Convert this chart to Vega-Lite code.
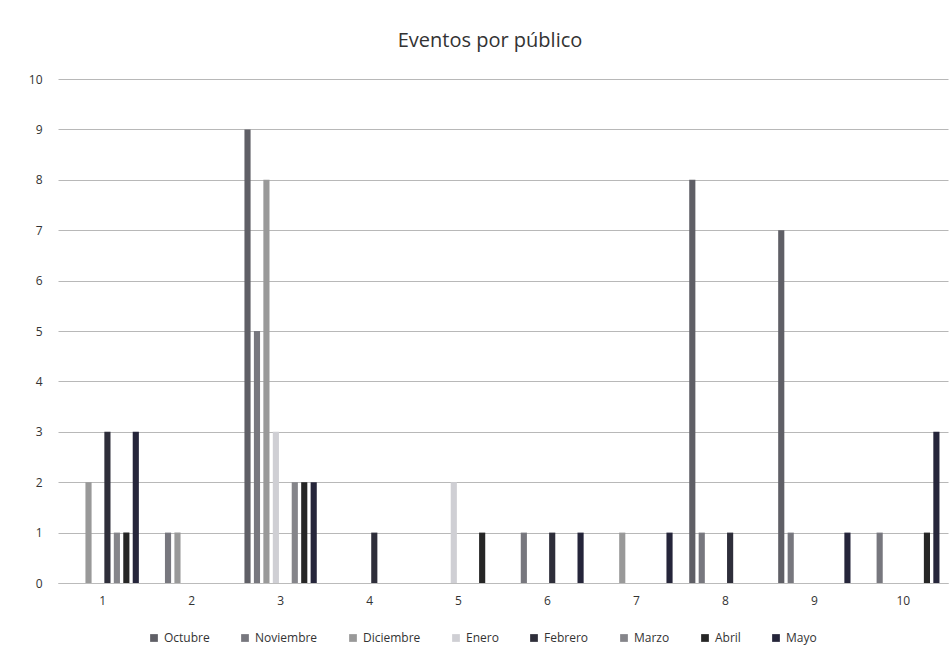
{
  "$schema": "https://vega.github.io/schema/vega-lite/v6.json",
  "width": 890,
  "height": 504,
  "autosize": {"type": "none"},
  "padding": {"left": 58, "top": 79, "right": 3, "bottom": 84},
  "background": "white",
  "title": {
    "text": "Eventos por público",
    "fontSize": 20,
    "font": "Open Sans",
    "fontWeight": "normal",
    "color": "#333333",
    "anchor": "middle",
    "dx": -13,
    "offset": 22
  },
  "data": {
    "values": [
      {"publico": 1, "mes": "Diciembre", "eventos": 2},
      {"publico": 1, "mes": "Febrero", "eventos": 3},
      {"publico": 1, "mes": "Marzo", "eventos": 1},
      {"publico": 1, "mes": "Abril", "eventos": 1},
      {"publico": 1, "mes": "Mayo", "eventos": 3},
      {"publico": 2, "mes": "Noviembre", "eventos": 1},
      {"publico": 2, "mes": "Diciembre", "eventos": 1},
      {"publico": 3, "mes": "Octubre", "eventos": 9},
      {"publico": 3, "mes": "Noviembre", "eventos": 5},
      {"publico": 3, "mes": "Diciembre", "eventos": 8},
      {"publico": 3, "mes": "Enero", "eventos": 3},
      {"publico": 3, "mes": "Marzo", "eventos": 2},
      {"publico": 3, "mes": "Abril", "eventos": 2},
      {"publico": 3, "mes": "Mayo", "eventos": 2},
      {"publico": 4, "mes": "Febrero", "eventos": 1},
      {"publico": 5, "mes": "Enero", "eventos": 2},
      {"publico": 5, "mes": "Abril", "eventos": 1},
      {"publico": 6, "mes": "Noviembre", "eventos": 1},
      {"publico": 6, "mes": "Febrero", "eventos": 1},
      {"publico": 6, "mes": "Mayo", "eventos": 1},
      {"publico": 7, "mes": "Diciembre", "eventos": 1},
      {"publico": 7, "mes": "Mayo", "eventos": 1},
      {"publico": 8, "mes": "Octubre", "eventos": 8},
      {"publico": 8, "mes": "Noviembre", "eventos": 1},
      {"publico": 8, "mes": "Febrero", "eventos": 1},
      {"publico": 9, "mes": "Octubre", "eventos": 7},
      {"publico": 9, "mes": "Noviembre", "eventos": 1},
      {"publico": 9, "mes": "Mayo", "eventos": 1},
      {"publico": 10, "mes": "Noviembre", "eventos": 1},
      {"publico": 10, "mes": "Abril", "eventos": 1},
      {"publico": 10, "mes": "Mayo", "eventos": 3}
    ]
  },
  "mark": {"type": "bar"},
  "encoding": {
    "x": {
      "field": "publico",
      "type": "ordinal",
      "scale": {"domain": [1,2,3,4,5,6,7,8,9,10], "paddingInner": 0.155, "paddingOuter": 0.08},
      "axis": {
        "title": null,
        "labelAngle": 0,
        "labelFont": "Open Sans",
        "labelFontSize": 12,
        "labelColor": "#333333",
        "labelPadding": 12,
        "ticks": false,
        "domain": true,
        "domainColor": "#bbbbbb"
      }
    },
    "xOffset": {
      "field": "mes",
      "type": "nominal",
      "scale": {
        "domain": ["Octubre","Noviembre","Diciembre","Enero","Febrero","Marzo","Abril","Mayo"],
        "paddingInner": 0.35,
        "paddingOuter": 0.15
      }
    },
    "y": {
      "field": "eventos",
      "type": "quantitative",
      "scale": {"domain": [0, 10]},
      "axis": {
        "title": null,
        "values": [0,1,2,3,4,5,6,7,8,9,10],
        "labelFont": "Open Sans",
        "labelFontSize": 12,
        "labelColor": "#333333",
        "labelPadding": 16,
        "ticks": false,
        "domain": false,
        "gridColor": "#b8b8b8",
        "gridWidth": 1
      }
    },
    "color": {
      "field": "mes",
      "type": "nominal",
      "scale": {
        "domain": ["Octubre","Noviembre","Diciembre","Enero","Febrero","Marzo","Abril","Mayo"],
        "range": ["#5f5f66","#77777e","#999999","#cfcfd4","#2e2e3a","#85858a","#262626","#25253a"]
      },
      "legend": {
        "title": null,
        "orient": "none",
        "legendX": 90,
        "legendY": 553,
        "direction": "horizontal",
        "columns": 8,
        "symbolType": "square",
        "symbolSize": 60,
        "symbolStrokeWidth": 0,
        "labelFont": "Open Sans",
        "labelFontSize": 12,
        "labelColor": "#333333",
        "columnPadding": 29
      }
    }
  },
  "config": {
    "view": {"stroke": null}
  }
}
